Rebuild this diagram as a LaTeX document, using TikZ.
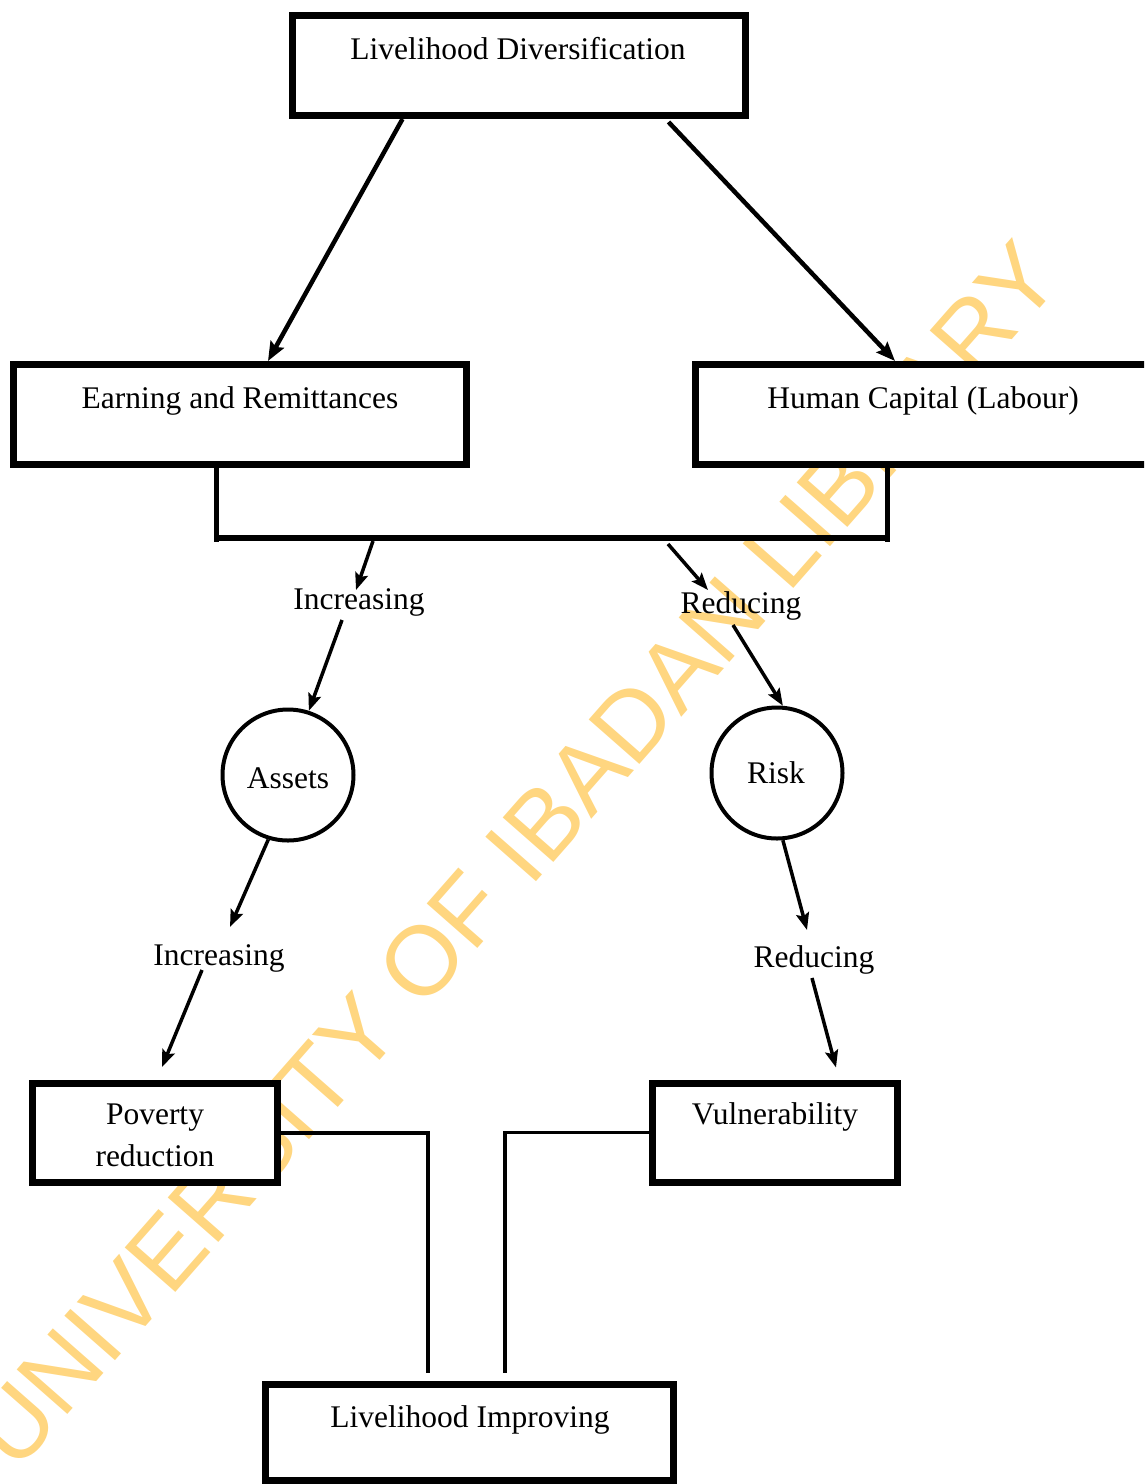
\documentclass[tikz,border=0pt]{standalone}
\usepackage{fontspec}
\setmainfont{Liberation Serif}
\newfontfamily\stampfont{Liberation Sans}
\usetikzlibrary{arrows.meta,calc}
\definecolor{stampcol}{RGB}{255,214,128}

\begin{document}
\begin{tikzpicture}[x=1pt,y=-1pt,
  box/.style={draw, line width=7pt, fill=white, inner sep=0pt,
              minimum width=453pt, minimum height=100pt},
  smallbox/.style={box, minimum width=245pt, minimum height=99pt},
  ring/.style={draw, circle, line width=4pt, minimum size=131pt, inner sep=0pt},
  lbl/.style={anchor=base, inner sep=0pt, font=\fontsize{31.5}{36}\selectfont},
  arr/.style={line width=4.5pt, -{Stealth[length=19pt,width=15pt,inset=3pt]}},
  tarr/.style={line width=3.5pt, -{Stealth[length=17pt,width=13pt,inset=3pt]}},
  link/.style={line width=3.5pt},
  bracket/.style={line width=5pt},
]
\useasboundingbox (0,0) rectangle (1144,1484);
\clip (0,0) rectangle (1144,1484);

% library stamp behind everything
\node[rotate=48.7, text=stampcol, inner sep=0pt,
      font=\stampfont\fontsize{98}{110}\selectfont] (stamp) at (515,855)
      {UNIVERSITY OF IBADAN LIBRARY};

% boxes
\node[box] (top) at (518.5,65.5) {};
\node[box] (earn) at (240,414.5) {};
\node[box] (human) at (922,414.5) {};
\node[smallbox] (pov) at (155,1133) {};
\node[smallbox] (vul) at (775,1132.5) {};
\node[box, minimum width=408pt, minimum height=96pt] (imp) at (469.5,1432.5) {};

% circles
\node[ring] (assets) at (288,775) {};
\node[ring] (risk) at (777,773) {};

% texts
\node[lbl] (ttop) at (518,59) {Livelihood Diversification};
\node[lbl] (tearn) at (240,408) {Earning and Remittances};
\node[lbl] (thuman) at (923,408) {Human Capital (Labour)};
\node[lbl] (inc1) at (359,609) {Increasing};
\node[lbl] (rd1) at (741,613) {Reducing};
\node[lbl] (tassets) at (288,788) {Assets};
\node[lbl] (trisk) at (776,783) {Risk};
\node[lbl] (inc2) at (219,965) {Increasing};
\node[lbl] (rd2) at (814,967) {Reducing};
\node[lbl] (tpov) at (155,1124) {Poverty};
\node[lbl] (tred) at (155,1166) {reduction};
\node[lbl] (tvul) at (775,1124) {Vulnerability};
\node[lbl] (timp) at (470,1427) {Livelihood Improving};

% top arrows
\draw[arr] ($(top.south west)+(114,0)$) -- ($(earn.north west)+(258,0)$);
\draw[arr] ($(top.south west)+(380,3)$) -- ($(human.north west)+(203,0)$);

% joining bracket
\draw[bracket] ($(earn.south west)+(206,-1)$) -- ++(0,75);
\draw[bracket] ($(human.south west)+(195,-1)$) -- ++(0,75);
\draw[line width=6.5pt] ($(earn.south west)+(204,70)$) -- ($(human.south west)+(197,70)$);
\coordinate (barL) at (373,541);
\coordinate (barR) at (668,544);

% left chain
\draw[tarr] (barL) -- ($(inc1.base)+(-3,-19)$);
\draw[tarr] ($(inc1.base)+(-17,11)$) -- (assets.72);
\draw[tarr] (assets.-107) -- ($(inc2.base)+(11,-38)$);
\draw[tarr] ($(inc2.base)+(-17,5)$) -- ($(pov.north west)+(133,-13)$);

% right chain
\draw[tarr] (barR) -- ($(rd1.base)+(-33,-23)$);
\draw[tarr] ($(rd1.base)+(-8,12)$) -- (risk.85);
\draw[tarr] (risk.-85) -- ($(rd2.base)+(-7,-37)$);
\draw[tarr] ($(rd2.base)+(-2,11)$) -- ($(vul.north west)+(187,-12)$);

% links to the bottom box
\draw[link] (pov.east) -| ($(imp.north west)+(166,-8)$);
\draw[link] (vul.west) -| ($(imp.north west)+(243,-8)$);
\end{tikzpicture}
\end{document}
